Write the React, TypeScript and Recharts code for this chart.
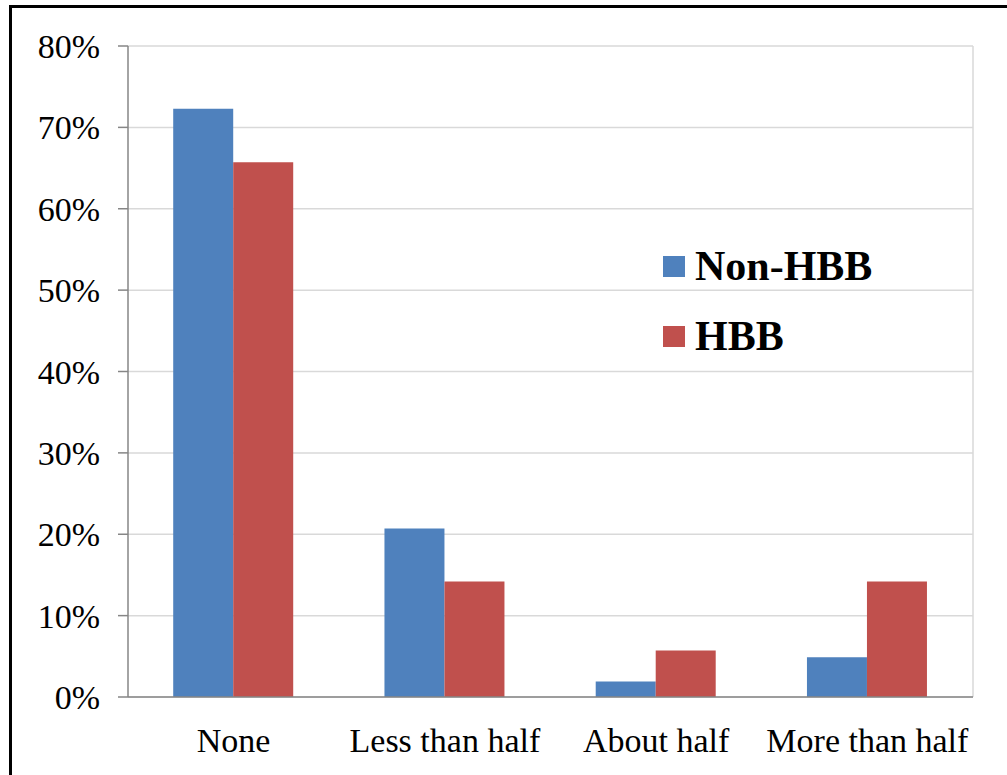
import { BarChart, Bar, XAxis, YAxis, CartesianGrid, Legend } from "recharts";

const categories = ["None", "Less than half", "About half", "More than half"];
const nonHbb = [72.3, 20.7, 1.9, 4.9];
const hbb = [65.7, 14.2, 5.7, 14.2];
const seriesNames = ["Non-HBB", "HBB"];
const yTicks = [0, 10, 20, 30, 40, 50, 60, 70, 80];
const edgeTicks = [0, 1, 2, 3, 4];

const data = categories.map((name, i) => ({
  name,
  idx: i + 0.5,
  nonHbb: nonHbb[i],
  hbb: hbb[i],
}));

const FONT = '"Liberation Serif", "Times New Roman", serif';
const AXIS = "#868686";

const LegendBox = ({ payload }: any) => {
  // keep the series order, not the alphabetical one
  const items = seriesNames
    .map((n) => (payload || []).find((p: any) => p.value === n))
    .filter(Boolean);
  return (
    <div style={{ fontFamily: FONT, fontWeight: 700, fontSize: 42, color: "#000" }}>
      {items.map((item: any) => (
        <div key={item.value} style={{ display: "flex", alignItems: "center", height: 70 }}>
          <div style={{ width: 22, height: 21, background: item.color, marginRight: 10 }} />
          <span>{item.value}</span>
        </div>
      ))}
    </div>
  );
};

const App = () => {
  return (
    <div style={{ position: "absolute", left: 0, top: 0, width: 1007, height: 775, background: "#fff" }}>
      <div
        style={{
          position: "absolute",
          left: 9,
          top: 5,
          right: 0,
          bottom: 0,
          borderLeft: "3px solid #000",
          borderTop: "3px solid #000",
        }}
      />
      <div style={{ position: "absolute", left: 0, top: 0 }}>
        <BarChart
          width={1007}
          height={775}
          data={data}
          margin={{ top: 46, right: 34, bottom: 18, left: 0 }}
          barCategoryGap="21.4%"
          barGap={0}
        >
          <CartesianGrid
            stroke="#d9d9d9"
            strokeWidth={1.5}
            verticalCoordinatesGenerator={({ offset }: any) => [offset.left + offset.width]}
          />
          <XAxis
            xAxisId="edges"
            type="number"
            dataKey="idx"
            domain={[0, 4]}
            ticks={edgeTicks}
            tick={false}
            axisLine={false}
            tickLine={{ stroke: AXIS, strokeWidth: 1.5 }}
            tickSize={11}
            height={1}
          />
          <XAxis
            dataKey="name"
            axisLine={{ stroke: AXIS, strokeWidth: 1.5 }}
            tickLine={false}
            tickSize={10}
            tickMargin={21}
            height={59}
            interval={0}
            tick={{ fontFamily: FONT, fontSize: 34, fill: "#000" }}
          />
          <YAxis
            domain={[0, 80]}
            ticks={yTicks}
            tickFormatter={(v: number) => `${v}%`}
            width={128}
            axisLine={{ stroke: AXIS, strokeWidth: 1.5 }}
            tickLine={{ stroke: AXIS, strokeWidth: 1.5 }}
            tickSize={10}
            tickMargin={18}
            tick={{ fontFamily: FONT, fontSize: 34, fill: "#000" }}
          />
          <Legend
            layout="vertical"
            align="center"
            verticalAlign="middle"
            content={<LegendBox />}
            wrapperStyle={{ left: 663, top: 231, width: "auto" }}
          />
          <Bar dataKey="nonHbb" name="Non-HBB" fill="#4F81BD" isAnimationActive={false} />
          <Bar dataKey="hbb" name="HBB" fill="#C0504D" isAnimationActive={false} />
        </BarChart>
      </div>
    </div>
  );
};

export default App;
